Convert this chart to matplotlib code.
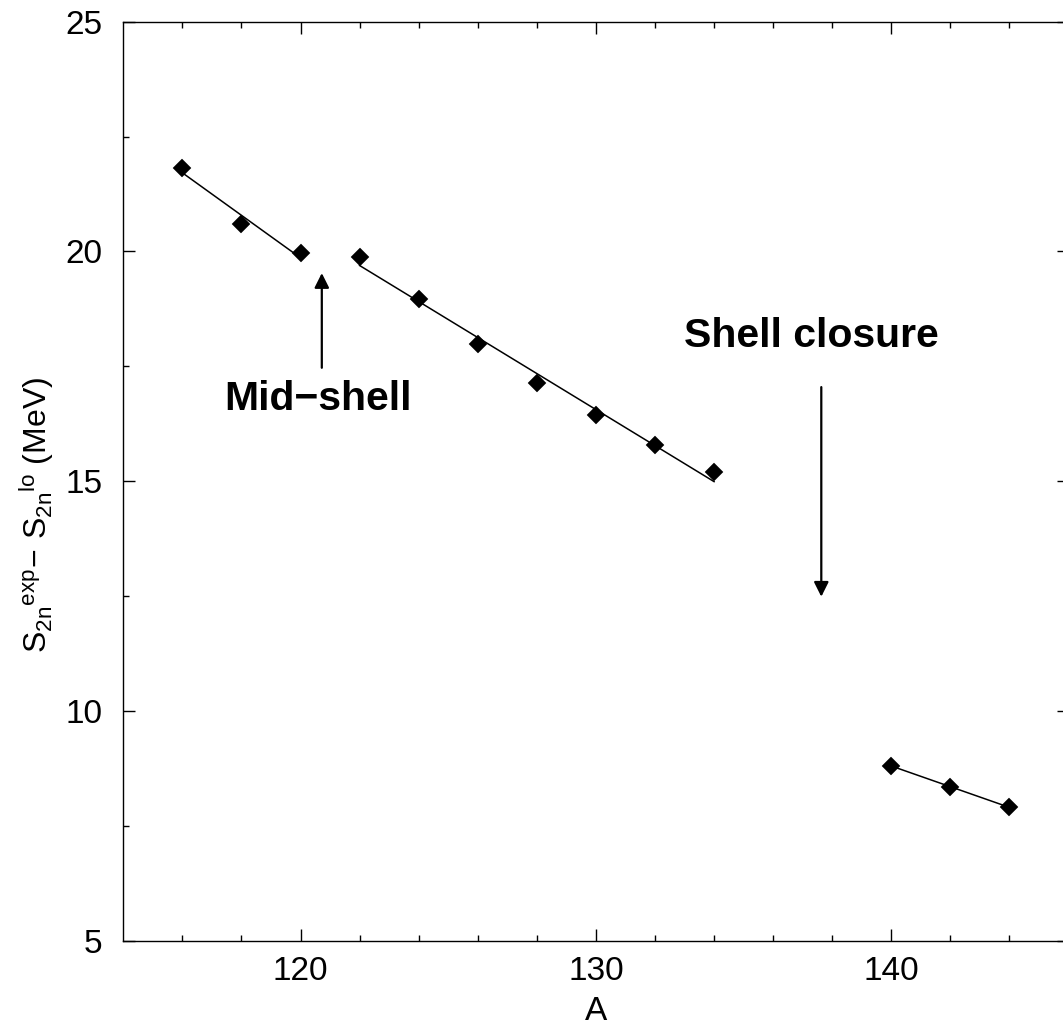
import numpy as np
import matplotlib.pyplot as plt

plt.rcParams['font.family'] = ['Liberation Sans', 'DejaVu Sans']
plt.rcParams['mathtext.fontset'] = 'custom'
plt.rcParams['mathtext.rm'] = 'Liberation Sans'
plt.rcParams['mathtext.it'] = 'Liberation Sans'

# mass number A and S2n(exp) - S2n(lo) in MeV, three groups
a_low = [116, 118, 120]
s_low = [21.81, 20.59, 19.96]
a_mid = [122, 124, 126, 128, 130, 132, 134]
s_mid = [19.89, 18.97, 17.98, 17.13, 16.44, 15.79, 15.21]
a_high = [140, 142, 144]
s_high = [8.81, 8.35, 7.91]

fig = plt.figure(figsize=(10.63, 10.31), dpi=100)
ax = fig.add_axes([0.116, 0.0873, 0.8892, 0.8917])

for a, s in [(a_low, s_low), (a_mid, s_mid), (a_high, s_high)]:
    a = np.array(a, dtype=float)
    k, b = np.polyfit(a, s, 1)
    ends = np.array([a[0], a[-1]])
    ax.plot(ends, k * ends + b, color='black', lw=1.1)
    ax.plot(a, s, linestyle='none', marker='D', ms=8.8, mfc='black', mec='black', mew=0.3)

ax.set_xlim(114, 146)
ax.set_ylim(5, 25)
ax.set_xticks([120, 130, 140])
ax.set_xticks(np.arange(116, 146, 2), minor=True)
ax.set_yticks([5, 10, 15, 20, 25])
ax.set_yticks([7.5, 12.5, 17.5, 22.5], minor=True)
ax.tick_params(which='both', direction='in', top=True, right=True, width=1)
ax.tick_params(which='major', length=8.5)
ax.tick_params(which='minor', length=4.5)
ax.tick_params(axis='x', which='major', labelsize=24, pad=10.5)
ax.tick_params(axis='y', which='major', labelsize=24, pad=15)
for sp in ax.spines.values():
    sp.set_linewidth(1.0)

# annotations
ax.annotate('', xy=(120.72, 19.53), xytext=(120.72, 17.47),
            arrowprops=dict(arrowstyle='-|>', color='black', lw=1.6,
                            mutation_scale=22, shrinkA=0, shrinkB=0))
ax.text(120.6, 16.55, 'Mid\u2212shell', fontsize=29.5, fontweight='bold',
        ha='center', va='baseline')
ax.annotate('', xy=(137.63, 12.49), xytext=(137.63, 17.05),
            arrowprops=dict(arrowstyle='-|>', color='black', lw=1.6,
                            mutation_scale=22, shrinkA=0, shrinkB=0))
ax.text(137.31, 17.92, 'Shell closure', fontsize=29.5, fontweight='bold',
        ha='center', va='baseline')

fig.text(596 / 1063, 1 - 1012 / 1031, 'A', fontsize=24, ha='center', va='center')
fig.text(37 / 1063, 1 - 515 / 1031,
         r'$\mathrm{S_{2n}{}^{exp}\!-\,S_{2n}{}^{lo}}$ (MeV)',
         fontsize=23, rotation=90, ha='center', va='center')

fig.savefig('out.png', dpi=100)
